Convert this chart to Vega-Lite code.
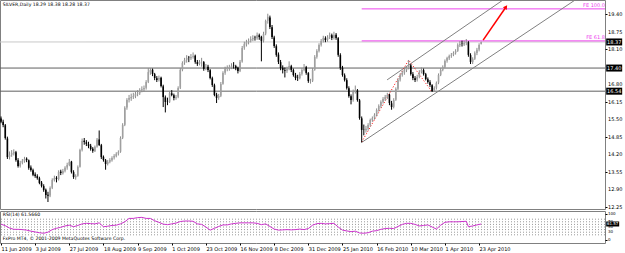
{
"$schema":"https://vega.github.io/schema/vega-lite/v6.json",
"autosize":{"type":"pad"},
"padding":{"left":-2,"top":-3,"right":0,"bottom":0},
"background":"white",
"spacing":2,
"bounds":"flush",
"config":{"view":{"stroke":"#808080","strokeWidth":1},"axis":{"labelFont":"DejaVu Sans","labelFontSize":5,"labelColor":"#000000","tickColor":"#000000","grid":false,"domain":false,"title":null,"labelOverlap":false,"labelBound":false}},
"datasets":{
"bars":[
{"i":0,"o":15.52,"h":15.60,"l":15.35,"c":15.40},{"i":1,"o":15.40,"h":15.48,"l":15.20,"c":15.28},{"i":2,"o":15.27,"h":15.32,"l":14.74,"c":14.80},{"i":3,"o":14.78,"h":14.85,"l":14.02,"c":14.09},{"i":4,"o":14.10,"h":14.30,"l":14.00,"c":14.17},{"i":5,"o":14.18,"h":14.35,"l":14.10,"c":14.24},{"i":6,"o":14.22,"h":14.38,"l":14.15,"c":14.28},{"i":7,"o":14.27,"h":14.32,"l":13.92,"c":13.98},{"i":8,"o":13.97,"h":14.05,"l":13.70,"c":13.76},{"i":9,"o":13.76,"h":13.95,"l":13.70,"c":13.87},
{"i":10,"o":13.88,"h":14.02,"l":13.82,"c":13.95},{"i":11,"o":13.94,"h":14.10,"l":13.88,"c":14.02},{"i":12,"o":14.03,"h":14.08,"l":13.90,"c":13.98},{"i":13,"o":13.97,"h":14.00,"l":13.62,"c":13.69},{"i":14,"o":13.70,"h":13.78,"l":13.55,"c":13.61},{"i":15,"o":13.60,"h":13.66,"l":13.38,"c":13.43},{"i":16,"o":13.44,"h":13.52,"l":13.32,"c":13.39},{"i":17,"o":13.38,"h":13.45,"l":13.25,"c":13.31},{"i":18,"o":13.30,"h":13.36,"l":13.08,"c":13.13},{"i":19,"o":13.14,"h":13.20,"l":12.96,"c":13.02},
{"i":20,"o":13.01,"h":13.08,"l":12.80,"c":12.87},{"i":21,"o":12.88,"h":12.92,"l":12.55,"c":12.68},{"i":22,"o":12.69,"h":12.80,"l":12.42,"c":12.65},{"i":23,"o":12.66,"h":13.00,"l":12.60,"c":12.94},{"i":24,"o":12.95,"h":13.30,"l":12.90,"c":13.24},{"i":25,"o":13.23,"h":13.40,"l":13.18,"c":13.31},{"i":26,"o":13.32,"h":13.38,"l":13.15,"c":13.28},{"i":27,"o":13.27,"h":13.60,"l":13.22,"c":13.54},{"i":28,"o":13.55,"h":13.62,"l":13.42,"c":13.50},{"i":29,"o":13.49,"h":13.65,"l":13.44,"c":13.57},
{"i":30,"o":13.58,"h":13.75,"l":13.52,"c":13.69},{"i":31,"o":13.70,"h":13.88,"l":13.62,"c":13.80},{"i":32,"o":13.80,"h":14.02,"l":13.75,"c":13.91},{"i":33,"o":13.92,"h":13.95,"l":13.48,"c":13.54},{"i":34,"o":13.53,"h":13.60,"l":13.28,"c":13.35},{"i":35,"o":13.34,"h":13.45,"l":13.25,"c":13.39},{"i":36,"o":13.40,"h":13.78,"l":13.36,"c":13.72},{"i":37,"o":13.73,"h":14.40,"l":13.70,"c":14.35},{"i":38,"o":14.36,"h":14.78,"l":14.30,"c":14.69},{"i":39,"o":14.70,"h":14.80,"l":14.55,"c":14.65},
{"i":40,"o":14.64,"h":14.72,"l":14.50,"c":14.58},{"i":41,"o":14.57,"h":14.66,"l":14.42,"c":14.50},{"i":42,"o":14.51,"h":14.58,"l":14.33,"c":14.39},{"i":43,"o":14.40,"h":14.46,"l":14.25,"c":14.32},{"i":44,"o":14.31,"h":14.52,"l":14.28,"c":14.47},{"i":45,"o":14.48,"h":14.80,"l":14.44,"c":14.73},{"i":46,"o":14.74,"h":15.08,"l":14.50,"c":14.54},{"i":47,"o":14.53,"h":14.58,"l":14.02,"c":14.09},{"i":48,"o":14.10,"h":14.15,"l":13.92,"c":13.98},{"i":49,"o":13.97,"h":14.02,"l":13.62,"c":13.83},
{"i":50,"o":13.84,"h":13.98,"l":13.78,"c":13.91},{"i":51,"o":13.92,"h":14.05,"l":13.86,"c":13.98},{"i":52,"o":13.97,"h":14.12,"l":13.92,"c":14.06},{"i":53,"o":14.07,"h":14.20,"l":14.00,"c":14.13},{"i":54,"o":14.12,"h":14.27,"l":14.08,"c":14.21},{"i":55,"o":14.22,"h":14.34,"l":14.15,"c":14.28},{"i":56,"o":14.29,"h":14.86,"l":14.25,"c":14.80},{"i":57,"o":14.81,"h":15.35,"l":14.76,"c":15.28},{"i":58,"o":15.29,"h":15.98,"l":15.24,"c":15.92},{"i":59,"o":15.93,"h":16.28,"l":15.85,"c":16.21},
{"i":60,"o":16.22,"h":16.40,"l":16.12,"c":16.29},{"i":61,"o":16.28,"h":16.45,"l":16.18,"c":16.32},{"i":62,"o":16.33,"h":16.48,"l":16.25,"c":16.36},{"i":63,"o":16.35,"h":16.52,"l":16.28,"c":16.44},{"i":64,"o":16.45,"h":16.58,"l":16.35,"c":16.47},{"i":65,"o":16.46,"h":16.65,"l":16.40,"c":16.58},{"i":66,"o":16.59,"h":16.72,"l":16.50,"c":16.62},{"i":67,"o":16.61,"h":16.75,"l":16.52,"c":16.66},{"i":68,"o":16.67,"h":16.95,"l":16.60,"c":16.88},{"i":69,"o":16.89,"h":17.40,"l":16.84,"c":17.25},
{"i":70,"o":17.24,"h":17.40,"l":17.15,"c":17.33},{"i":71,"o":17.34,"h":17.38,"l":17.10,"c":17.18},{"i":72,"o":17.17,"h":17.22,"l":16.95,"c":17.03},{"i":73,"o":17.02,"h":17.10,"l":16.88,"c":16.96},{"i":74,"o":16.97,"h":17.12,"l":16.90,"c":17.03},{"i":75,"o":17.04,"h":17.08,"l":16.68,"c":16.73},{"i":76,"o":16.72,"h":16.78,"l":15.95,"c":16.32},{"i":77,"o":16.31,"h":16.38,"l":15.75,"c":16.14},{"i":78,"o":16.15,"h":16.30,"l":16.02,"c":16.14},{"i":79,"o":16.15,"h":16.55,"l":16.10,"c":16.47},
{"i":80,"o":16.46,"h":16.58,"l":16.35,"c":16.40},{"i":81,"o":16.39,"h":16.45,"l":16.20,"c":16.29},{"i":82,"o":16.30,"h":16.40,"l":16.22,"c":16.32},{"i":83,"o":16.33,"h":16.72,"l":16.28,"c":16.66},{"i":84,"o":16.67,"h":17.40,"l":16.62,"c":17.33},{"i":85,"o":17.34,"h":17.65,"l":17.28,"c":17.59},{"i":86,"o":17.60,"h":17.78,"l":17.52,"c":17.70},{"i":87,"o":17.71,"h":17.88,"l":17.60,"c":17.77},{"i":88,"o":17.78,"h":17.85,"l":17.62,"c":17.77},{"i":89,"o":17.76,"h":17.92,"l":17.70,"c":17.81},
{"i":90,"o":17.82,"h":17.98,"l":17.75,"c":17.85},{"i":91,"o":17.86,"h":17.90,"l":17.56,"c":17.63},{"i":92,"o":17.62,"h":17.70,"l":17.48,"c":17.55},{"i":93,"o":17.56,"h":17.70,"l":17.50,"c":17.63},{"i":94,"o":17.63,"h":17.78,"l":17.45,"c":17.63},{"i":95,"o":17.62,"h":17.66,"l":17.30,"c":17.37},{"i":96,"o":17.38,"h":17.55,"l":17.32,"c":17.44},{"i":97,"o":17.45,"h":17.52,"l":17.25,"c":17.33},{"i":98,"o":17.32,"h":17.36,"l":16.98,"c":17.03},{"i":99,"o":17.02,"h":17.08,"l":16.70,"c":16.77},
{"i":100,"o":16.76,"h":16.82,"l":16.35,"c":16.40},{"i":101,"o":16.41,"h":16.48,"l":16.10,"c":16.29},{"i":102,"o":16.30,"h":16.44,"l":16.22,"c":16.36},{"i":103,"o":16.37,"h":16.88,"l":16.32,"c":16.81},{"i":104,"o":16.82,"h":17.28,"l":16.78,"c":17.22},{"i":105,"o":17.23,"h":17.45,"l":17.15,"c":17.37},{"i":106,"o":17.36,"h":17.50,"l":17.28,"c":17.40},{"i":107,"o":17.41,"h":17.52,"l":17.30,"c":17.44},{"i":108,"o":17.43,"h":17.58,"l":17.36,"c":17.48},{"i":109,"o":17.49,"h":17.62,"l":17.38,"c":17.48},
{"i":110,"o":17.47,"h":17.52,"l":17.32,"c":17.40},{"i":111,"o":17.41,"h":17.45,"l":17.20,"c":17.29},{"i":112,"o":17.30,"h":17.70,"l":17.25,"c":17.63},{"i":113,"o":17.64,"h":18.22,"l":17.60,"c":18.15},{"i":114,"o":18.16,"h":18.38,"l":18.08,"c":18.29},{"i":115,"o":18.28,"h":18.45,"l":18.20,"c":18.37},{"i":116,"o":18.36,"h":18.50,"l":18.28,"c":18.41},{"i":117,"o":18.42,"h":18.58,"l":18.35,"c":18.48},{"i":118,"o":18.47,"h":18.62,"l":18.40,"c":18.52},{"i":119,"o":18.53,"h":18.60,"l":18.42,"c":18.52},
{"i":120,"o":18.51,"h":18.72,"l":18.45,"c":18.63},{"i":121,"o":18.62,"h":18.68,"l":18.45,"c":18.55},{"i":122,"o":18.56,"h":18.60,"l":17.65,"c":18.41},{"i":123,"o":18.42,"h":18.75,"l":18.35,"c":18.67},{"i":124,"o":18.68,"h":19.20,"l":18.62,"c":19.15},{"i":125,"o":19.16,"h":19.42,"l":19.05,"c":19.30},{"i":126,"o":19.28,"h":19.35,"l":18.85,"c":18.93},{"i":127,"o":18.92,"h":19.00,"l":18.48,"c":18.55},{"i":128,"o":18.54,"h":18.60,"l":18.15,"c":18.22},{"i":129,"o":18.21,"h":18.28,"l":17.82,"c":17.89},
{"i":130,"o":17.90,"h":17.98,"l":17.55,"c":17.63},{"i":131,"o":17.62,"h":17.70,"l":17.32,"c":17.40},{"i":132,"o":17.41,"h":17.50,"l":17.20,"c":17.33},{"i":133,"o":17.32,"h":17.42,"l":17.05,"c":17.29},{"i":134,"o":17.30,"h":17.45,"l":17.22,"c":17.37},{"i":135,"o":17.38,"h":17.65,"l":17.32,"c":17.48},{"i":136,"o":17.47,"h":17.52,"l":17.25,"c":17.33},{"i":137,"o":17.32,"h":17.38,"l":17.08,"c":17.14},{"i":138,"o":17.13,"h":17.22,"l":16.95,"c":17.03},{"i":139,"o":17.04,"h":17.15,"l":16.92,"c":17.03},
{"i":140,"o":17.02,"h":17.25,"l":16.98,"c":17.18},{"i":141,"o":17.19,"h":17.40,"l":17.12,"c":17.33},{"i":142,"o":17.34,"h":17.55,"l":17.28,"c":17.44},{"i":143,"o":17.43,"h":17.48,"l":17.15,"c":17.22},{"i":144,"o":17.21,"h":17.25,"l":16.85,"c":16.92},{"i":145,"o":16.91,"h":17.00,"l":16.82,"c":16.92},{"i":146,"o":16.93,"h":17.40,"l":16.88,"c":17.33},{"i":147,"o":17.34,"h":17.88,"l":17.30,"c":17.81},{"i":148,"o":17.82,"h":18.10,"l":17.75,"c":18.03},{"i":149,"o":18.04,"h":18.32,"l":17.98,"c":18.26},
{"i":150,"o":18.27,"h":18.48,"l":18.20,"c":18.41},{"i":151,"o":18.42,"h":18.60,"l":18.35,"c":18.52},{"i":152,"o":18.51,"h":18.58,"l":18.36,"c":18.44},{"i":153,"o":18.45,"h":18.62,"l":18.38,"c":18.55},{"i":154,"o":18.56,"h":18.72,"l":18.48,"c":18.63},{"i":155,"o":18.62,"h":18.68,"l":18.44,"c":18.52},{"i":156,"o":18.53,"h":18.75,"l":18.46,"c":18.63},{"i":157,"o":18.64,"h":18.70,"l":18.45,"c":18.52},{"i":158,"o":18.51,"h":18.55,"l":17.82,"c":17.89},{"i":159,"o":17.88,"h":17.95,"l":17.33,"c":17.40},
{"i":160,"o":17.41,"h":17.48,"l":17.08,"c":17.14},{"i":161,"o":17.13,"h":17.20,"l":16.90,"c":16.96},{"i":162,"o":16.95,"h":17.02,"l":16.60,"c":16.66},{"i":163,"o":16.65,"h":16.72,"l":16.30,"c":16.36},{"i":164,"o":16.35,"h":16.42,"l":16.05,"c":16.21},{"i":165,"o":16.22,"h":16.60,"l":16.15,"c":16.51},{"i":166,"o":16.52,"h":16.75,"l":16.45,"c":16.58},{"i":167,"o":16.57,"h":16.62,"l":16.15,"c":16.21},{"i":168,"o":16.20,"h":16.25,"l":15.48,"c":15.54},{"i":169,"o":15.53,"h":15.60,"l":14.65,"c":15.10},
{"i":170,"o":15.11,"h":15.30,"l":14.90,"c":15.10},{"i":171,"o":15.09,"h":15.25,"l":15.00,"c":15.14},{"i":172,"o":15.15,"h":15.35,"l":15.08,"c":15.28},{"i":173,"o":15.29,"h":15.52,"l":15.22,"c":15.47},{"i":174,"o":15.46,"h":15.60,"l":15.40,"c":15.54},{"i":175,"o":15.55,"h":15.72,"l":15.48,"c":15.66},{"i":176,"o":15.65,"h":15.90,"l":15.60,"c":15.84},{"i":177,"o":15.85,"h":16.05,"l":15.78,"c":15.99},{"i":178,"o":16.00,"h":16.20,"l":15.92,"c":16.14},{"i":179,"o":16.15,"h":16.32,"l":16.08,"c":16.25},
{"i":180,"o":16.24,"h":16.40,"l":16.18,"c":16.32},{"i":181,"o":16.33,"h":16.48,"l":16.25,"c":16.40},{"i":182,"o":16.41,"h":16.45,"l":16.02,"c":16.10},{"i":183,"o":16.09,"h":16.18,"l":15.85,"c":15.95},{"i":184,"o":15.96,"h":16.28,"l":15.90,"c":16.21},{"i":185,"o":16.22,"h":16.68,"l":16.18,"c":16.62},{"i":186,"o":16.63,"h":17.02,"l":16.58,"c":16.96},{"i":187,"o":16.97,"h":17.20,"l":16.90,"c":17.14},{"i":188,"o":17.15,"h":17.30,"l":17.08,"c":17.22},{"i":189,"o":17.23,"h":17.40,"l":17.15,"c":17.33},
{"i":190,"o":17.32,"h":17.48,"l":17.25,"c":17.40},{"i":191,"o":17.41,"h":17.70,"l":17.35,"c":17.51},{"i":192,"o":17.50,"h":17.55,"l":17.12,"c":17.18},{"i":193,"o":17.17,"h":17.25,"l":16.95,"c":17.03},{"i":194,"o":17.02,"h":17.10,"l":16.88,"c":16.96},{"i":195,"o":16.97,"h":17.15,"l":16.90,"c":17.07},{"i":196,"o":17.08,"h":17.32,"l":17.02,"c":17.25},{"i":197,"o":17.26,"h":17.42,"l":17.20,"c":17.33},{"i":198,"o":17.32,"h":17.38,"l":17.12,"c":17.18},{"i":199,"o":17.17,"h":17.22,"l":16.94,"c":16.99},
{"i":200,"o":16.98,"h":17.05,"l":16.82,"c":16.88},{"i":201,"o":16.87,"h":16.95,"l":16.70,"c":16.77},{"i":202,"o":16.76,"h":16.80,"l":16.51,"c":16.55},{"i":203,"o":16.56,"h":16.72,"l":16.52,"c":16.66},{"i":204,"o":16.67,"h":16.90,"l":16.60,"c":16.85},{"i":205,"o":16.86,"h":17.20,"l":16.80,"c":17.14},{"i":206,"o":17.15,"h":17.40,"l":17.10,"c":17.33},{"i":207,"o":17.34,"h":17.50,"l":17.28,"c":17.44},{"i":208,"o":17.45,"h":17.72,"l":17.40,"c":17.66},{"i":209,"o":17.67,"h":17.82,"l":17.60,"c":17.77},
{"i":210,"o":17.76,"h":17.90,"l":17.70,"c":17.85},{"i":211,"o":17.86,"h":17.96,"l":17.78,"c":17.89},{"i":212,"o":17.90,"h":18.02,"l":17.84,"c":17.96},{"i":213,"o":17.97,"h":18.10,"l":17.90,"c":18.03},{"i":214,"o":18.04,"h":18.32,"l":18.00,"c":18.26},{"i":215,"o":18.25,"h":18.40,"l":18.18,"c":18.29},{"i":216,"o":18.30,"h":18.42,"l":18.20,"c":18.29},{"i":217,"o":18.28,"h":18.42,"l":18.22,"c":18.33},{"i":218,"o":18.34,"h":18.48,"l":18.25,"c":18.37},{"i":219,"o":18.36,"h":18.40,"l":17.82,"c":17.89},
{"i":220,"o":17.88,"h":17.95,"l":17.55,"c":17.63},{"i":221,"o":17.62,"h":17.80,"l":17.55,"c":17.74},{"i":222,"o":17.75,"h":18.02,"l":17.70,"c":17.95},{"i":223,"o":17.96,"h":18.15,"l":17.88,"c":18.08},{"i":224,"o":18.09,"h":18.32,"l":18.02,"c":18.26},{"i":225,"o":18.29,"h":18.38,"l":18.28,"c":18.37}
],
"rsi":[
{"i":0,"r":61},{"i":2,"r":55},{"i":4,"r":46},{"i":6,"r":41},{"i":8,"r":41},{"i":10,"r":40},{"i":12,"r":38},{"i":14,"r":34},{"i":16,"r":31},{"i":18,"r":28},{"i":20,"r":26},{"i":22,"r":30},{"i":24,"r":40},{"i":26,"r":45},{"i":28,"r":49},{"i":30,"r":54},{"i":32,"r":57},{"i":34,"r":51},{"i":36,"r":56},{"i":38,"r":62},{"i":40,"r":64},{"i":42,"r":63},{"i":44,"r":62},{"i":46,"r":66},{"i":48,"r":51},{"i":50,"r":53},{"i":52,"r":56},{"i":54,"r":57},{"i":56,"r":62},{"i":58,"r":70},{"i":60,"r":83},{"i":62,"r":83},{"i":64,"r":86},{"i":66,"r":87},{"i":68,"r":83},{"i":70,"r":83},{"i":72,"r":74},{"i":74,"r":68},{"i":76,"r":61},{"i":78,"r":59},{"i":80,"r":62},{"i":82,"r":65},{"i":84,"r":71},{"i":86,"r":73},{"i":88,"r":73},{"i":90,"r":72},{"i":92,"r":62},{"i":94,"r":60},{"i":96,"r":50},{"i":98,"r":38},{"i":100,"r":45},{"i":102,"r":52},{"i":104,"r":58},{"i":106,"r":58},{"i":108,"r":62},{"i":110,"r":64},{"i":112,"r":66},{"i":114,"r":66},{"i":116,"r":66},{"i":118,"r":66},{"i":120,"r":64},{"i":122,"r":59},{"i":124,"r":62},{"i":126,"r":52},{"i":128,"r":42},{"i":130,"r":38},{"i":132,"r":39},{"i":134,"r":40},{"i":136,"r":39},{"i":138,"r":40},{"i":140,"r":42},{"i":142,"r":40},{"i":144,"r":44},{"i":146,"r":57},{"i":148,"r":63},{"i":150,"r":64},{"i":152,"r":62},{"i":154,"r":63},{"i":156,"r":64},{"i":158,"r":50},{"i":160,"r":38},{"i":162,"r":35},{"i":164,"r":32},{"i":166,"r":34},{"i":168,"r":27},{"i":170,"r":26},{"i":172,"r":28},{"i":174,"r":34},{"i":176,"r":36},{"i":178,"r":41},{"i":180,"r":44},{"i":182,"r":45},{"i":184,"r":44},{"i":186,"r":52},{"i":188,"r":60},{"i":190,"r":64},{"i":192,"r":64},{"i":194,"r":60},{"i":196,"r":54},{"i":198,"r":56},{"i":200,"r":58},{"i":202,"r":50},{"i":204,"r":42},{"i":206,"r":57},{"i":208,"r":68},{"i":210,"r":70},{"i":212,"r":70},{"i":214,"r":70},{"i":216,"r":71},{"i":218,"r":72},{"i":219,"r":51},{"i":221,"r":54},{"i":223,"r":58},{"i":225,"r":61.57}
],
"channels":[
{"line":"lower","i":168.7,"p":14.62},{"line":"lower","i":269,"p":19.93},
{"line":"upper","i":180.9,"p":16.96},{"line":"upper","i":235.2,"p":19.93}
],
"fe":[{"i":169,"p":14.65},{"i":191,"p":17.70},{"i":202,"p":16.51}],
"arrow":[{"i":225.9,"p":18.44},{"i":236.6,"p":19.67}],
"felevels":[{"name":"FE 61.8","p":18.41,"lp":18.55,"s":169,"e":283},{"name":"FE 100.0","p":19.60,"lp":19.76,"s":169,"e":283}],
"boxes":[{"p":18.37,"t":"18.37","i":287.3},{"p":17.40,"t":"17.40","i":287.3},{"p":16.54,"t":"16.54","i":287.3}],
"ylabels":[{"p":12.25,"t":"12.25","i":283},{"p":12.9,"t":"12.90","i":283},{"p":13.55,"t":"13.55","i":283},{"p":14.2,"t":"14.20","i":283},{"p":14.85,"t":"14.85","i":283},{"p":15.5,"t":"15.50","i":283},{"p":16.15,"t":"16.15","i":283},{"p":16.8,"t":"16.80","i":283},{"p":18.1,"t":"18.10","i":283},{"p":18.75,"t":"18.75","i":283},{"p":19.4,"t":"19.40","i":283}],
"rlabels":[{"r":100,"t":"100","i":283},{"r":70,"t":"70","i":283},{"r":50,"t":"50","i":283},{"r":30,"t":"30","i":283},{"r":0,"t":"0","i":283}]
},
"vconcat":[
{
"width":605,"height":209,
"encoding":{"x":{"field":"i","type":"quantitative","scale":{"domain":[-0.47,283],"nice":false,"zero":false},"axis":null}},
"layer":[
{"data":{"values":[{"p":17.40},{"p":16.54}]},"mark":{"type":"rule","color":"#606060","strokeWidth":1},
 "encoding":{"x":null,"y":{"field":"p","type":"quantitative","scale":{"domain":[12.16,19.93],"nice":false,"zero":false},"axis":{"orient":"right","values":[12.25,12.9,13.55,14.2,14.85,15.5,16.15,16.8,18.1,18.75,19.4],"format":".2f","labelOpacity":0,"labelFontSize":5.5,"labelPadding":2,"tickSize":2}}}},
{"data":{"values":[{"p":18.37}]},"mark":{"type":"rule","color":"#c8c8c8","strokeWidth":1},"encoding":{"x":null,"y":{"field":"p","type":"quantitative"}}},
{"data":{"name":"felevels"},"mark":{"type":"rule","color":"#ee44ee","strokeWidth":1},
 "encoding":{"x":{"field":"s","type":"quantitative"},"x2":{"field":"e"},"y":{"field":"p","type":"quantitative"}}},
{"data":{"name":"channels"},"mark":{"type":"line","color":"#808080","strokeWidth":1},
 "encoding":{"y":{"field":"p","type":"quantitative"},"detail":{"field":"line"}}},
{"data":{"name":"fe"},"mark":{"type":"line","color":"#ff0000","strokeWidth":1,"strokeDash":[1,2]},
 "encoding":{"y":{"field":"p","type":"quantitative"}}},
{"data":{"name":"bars"},"mark":{"type":"rule","strokeWidth":1},
 "encoding":{"y":{"field":"l","type":"quantitative"},"y2":{"field":"h"},
  "color":{"condition":{"test":"datum.c >= datum.o","value":"#8c8c8c"},"value":"#000000"}}},
{"data":{"name":"bars"},"mark":{"type":"rule","strokeWidth":1.6},
 "encoding":{"y":{"field":"o","type":"quantitative"},"y2":{"field":"c"},
  "color":{"condition":{"test":"datum.c >= datum.o","value":"#a0a0a0"},"value":"#000000"}}},
{"data":{"name":"arrow"},"mark":{"type":"line","color":"#ff0000","strokeWidth":1.5},
 "encoding":{"y":{"field":"p","type":"quantitative"}}},
{"data":{"values":[{"i":236.6,"p":19.67}]},"mark":{"type":"point","shape":"triangle-up","filled":true,"color":"#ff0000","size":22,"angle":35,"opacity":1},
 "encoding":{"y":{"field":"p","type":"quantitative"}}},
{"data":{"values":[{"t":"SILVER,Daily  18.29 18.38 18.28 18.37","i":0.8,"p":19.76}]},"mark":{"type":"text","fontSize":4.6,"align":"left","baseline":"middle","color":"#000000","font":"DejaVu Sans"},
 "encoding":{"y":{"field":"p","type":"quantitative"},"text":{"field":"t"}}},
{"data":{"name":"felevels"},"mark":{"type":"text","color":"#ee44ee","fontSize":5,"align":"right","baseline":"middle","font":"DejaVu Sans"},
 "encoding":{"x":{"field":"e","type":"quantitative"},"y":{"field":"lp","type":"quantitative"},"text":{"field":"name"}}},
{"data":{"name":"ylabels"},"mark":{"type":"text","fontSize":5,"align":"left","baseline":"middle","color":"#000000","font":"DejaVu Sans","dx":3},
 "encoding":{"y":{"field":"p","type":"quantitative"},"text":{"field":"t"}}},
{"data":{"name":"boxes"},"mark":{"type":"tick","orient":"horizontal","color":"#000000","size":16,"thickness":7,"opacity":1},
 "encoding":{"y":{"field":"p","type":"quantitative"}}},
{"data":{"name":"boxes"},"mark":{"type":"text","fontSize":5,"align":"center","baseline":"middle","color":"#ffffff","font":"DejaVu Sans"},
 "encoding":{"y":{"field":"p","type":"quantitative"},"text":{"field":"t"}}}
]
},
{
"width":605,"height":32,
"encoding":{"x":{"field":"i","type":"quantitative","scale":{"domain":[-0.47,283],"nice":false,"zero":false},
  "axis":{"orient":"bottom","values":[0,16,32,48,64,80,96,112,128,144,160,176,192,208,224],"labelAlign":"left","tickSize":2,"labelPadding":1,"labelFontSize":5,"labelOverlap":false,
   "labelExpr":"datum.value==0?'11 Jun 2009':datum.value==16?'3 Jul 2009':datum.value==32?'27 Jul 2009':datum.value==48?'18 Aug 2009':datum.value==64?'9 Sep 2009':datum.value==80?'1 Oct 2009':datum.value==96?'23 Oct 2009':datum.value==112?'16 Nov 2009':datum.value==128?'8 Dec 2009':datum.value==144?'31 Dec 2009':datum.value==160?'25 Jan 2010':datum.value==176?'16 Feb 2010':datum.value==192?'10 Mar 2010':datum.value==208?'1 Apr 2010':'23 Apr 2010'"}}},
"layer":[
{"data":{"values":[{"r":20},{"r":30},{"r":40},{"r":50},{"r":60},{"r":70},{"r":80}]},"mark":{"type":"rule","color":"#999999","strokeWidth":1,"strokeDash":[1,2]},
 "encoding":{"x":null,"y":{"field":"r","type":"quantitative","scale":{"domain":[-11.5,111.5],"nice":false,"zero":false},"axis":{"orient":"right","values":[0,30,50,70,100],"labelOpacity":0,"labelExpr":"'00.00'","labelPadding":2,"tickSize":2}}}},
{"data":{"name":"rsi"},"mark":{"type":"line","color":"#cc33cc","strokeWidth":1},
 "encoding":{"y":{"field":"r","type":"quantitative"}}},
{"data":{"values":[{"t":"RSI(14) 61.5660","r":96,"i":0.8},{"t":"FxPro MT4, © 2001-2009 MetaQuotes Software Corp.","r":3,"i":0.8}]},"mark":{"type":"text","fontSize":4.6,"align":"left","baseline":"middle","color":"#000000","font":"DejaVu Sans"},
 "encoding":{"y":{"field":"r","type":"quantitative"},"text":{"field":"t"}}},
{"data":{"name":"rlabels"},"mark":{"type":"text","fontSize":4,"align":"left","baseline":"middle","color":"#000000","font":"DejaVu Sans","dx":3},
 "encoding":{"y":{"field":"r","type":"quantitative"},"text":{"field":"t"}}},
{"data":{"values":[{"r":61.57,"t":"61.57","i":286.6}]},"mark":{"type":"tick","orient":"horizontal","color":"#000000","size":13,"thickness":5,"opacity":1},
 "encoding":{"y":{"field":"r","type":"quantitative"}}},
{"data":{"values":[{"r":61.57,"t":"61.57","i":286.6}]},"mark":{"type":"text","fontSize":4,"align":"center","baseline":"middle","color":"#ffffff","font":"DejaVu Sans"},
 "encoding":{"y":{"field":"r","type":"quantitative"},"text":{"field":"t"}}}
]
}
]
}
